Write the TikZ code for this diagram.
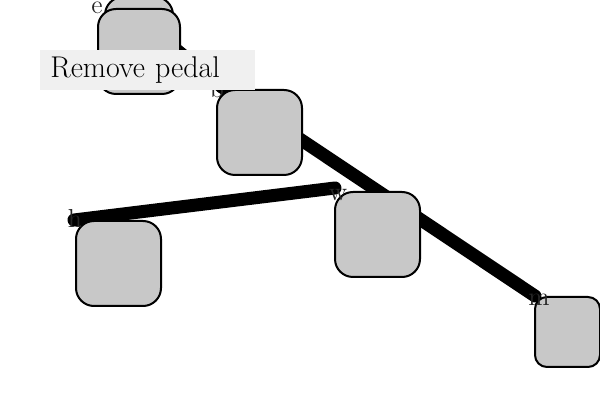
\documentclass[tikz,border=0pt]{standalone}
\definecolor{boxgray}{RGB}{200,200,200}
\definecolor{tagbg}{RGB}{240,240,240}
\begin{document}
\begin{tikzpicture}[x=0.5pt,y=-0.5pt,
  box/.style={draw=black, line width=1pt, fill=boxgray, rounded corners=9pt, minimum width=42.5pt, minimum height=42.5pt, inner sep=0pt, anchor=north west},
  smallbox/.style={box, rounded corners=6pt, minimum width=32.5pt, minimum height=35pt},
  link/.style={line width=6.5pt, line cap=round},
  tag/.style={font=\fontsize{13}{15}\selectfont, text=black!85, anchor=base, inner sep=0pt},
  note/.style={fill=tagbg, anchor=north west, minimum height=20pt, text width=97.5pt, inner xsep=5pt, inner ysep=0pt, align=left, font=\fontsize{15}{17}\selectfont}]
\useasboundingbox (0,0) rectangle (600,400);
\coordinate (ec) at (130,12);
\coordinate (bc) at (222,87);
\coordinate (hc) at (74,220);
\coordinate (wc) at (335,188);
\coordinate (mc) at (535,296);
\draw[link] (ec) -- (bc);
\draw[link] (bc) -- (mc);
\draw[link] (hc) -- (wc);
\node[box, minimum width=34pt] (eback) at (104,-4) {};
\node[box, minimum width=41pt] (e) at (97,8) {};
\node[box] (b) at (216,89) {};
\node[box] (h) at (75,220) {};
\node[box] (w) at (334,191) {};
\node[smallbox] (m) at (534,296) {};
\node[tag] (el) at (97,13.5) {e};
\node[tag] (bl) at (217,98) {b};
\node[tag] (hl) at (75,228) {h};
\node[tag] (wl) at (338,201) {w};
\node[tag] (ml) at (539,306) {m};
\node[note] (rp) at (40,50) {Remove pedal};
\end{tikzpicture}
\end{document}
